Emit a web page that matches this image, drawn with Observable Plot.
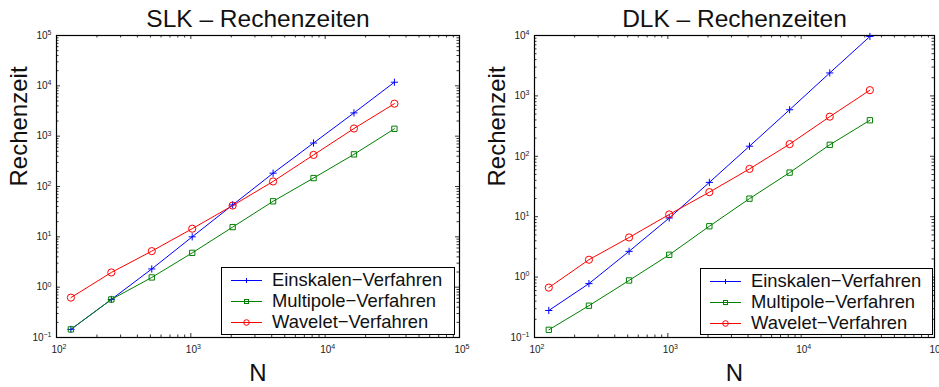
<!DOCTYPE html>
<html><head><meta charset="utf-8">
<script src="https://cdn.jsdelivr.net/npm/d3@7"></script>
<script src="https://cdn.jsdelivr.net/npm/@observablehq/plot@0.6"></script>
<style>
body{margin:0;background:#fff;}
#wrap{position:relative;width:939px;height:387px;overflow:hidden;font-family:"Liberation Sans",Arial,Helvetica,sans-serif;background:#fff;}
.panel{position:absolute;top:0;}
.legend{position:absolute;background:#fff;border:1.5px solid #000;box-sizing:border-box;}
.row{position:absolute;left:0;height:21px;display:flex;align-items:center;font-size:18.4px;color:#111;white-space:nowrap;}
.row svg{margin-left:9px;margin-right:10px;}
</style></head><body><div id="wrap"></div>
<script>
// ---- data ----
const N = [128, 256, 512, 1024, 2048, 4096, 8192, 16384, 32768];
const methods = ["Einskalen\u2212Verfahren", "Multipole\u2212Verfahren", "Wavelet\u2212Verfahren"];
const slkEinskalen = [0.145, 0.57, 2.3, 10, 43, 184, 731, 2900, 11800];
const slkMultipole = [0.145, 0.57, 1.56, 4.8, 15.6, 50.8, 147, 435, 1400];
const slkWavelet   = [0.62, 1.96, 5.2, 14.5, 41.8, 126, 424, 1420, 4420];
const dlkEinskalen = [0.28, 0.78, 2.67, 9.5, 37, 147, 590, 2400, 9640];
const dlkMultipole = [0.134, 0.336, 0.88, 2.34, 6.95, 19.9, 53.7, 155, 395];
const dlkWavelet   = [0.67, 1.94, 4.53, 10.9, 25.5, 61.8, 159, 453, 1245];
const titles = ["SLK \u2013 Rechenzeiten", "DLK \u2013 Rechenzeiten"];
const xLabel = "N";
const yLabel = "Rechenzeit";
const xTickExps = [2, 3, 4, 5];
const slkYTickExps = [-1, 0, 1, 2, 3, 4, 5];
const dlkYTickExps = [-1, 0, 1, 2, 3, 4];

// ---- styles ----
const colors = ["#0000ff", "#008000", "#ff0000"];
const symbols = ["plus", "square", "circle"];
const radii = [2.45, 3.0, 3.6];
const FONT = '"Liberation Sans", Arial, Helvetica, sans-serif';
const NS = "http://www.w3.org/2000/svg";

function minorTicks(e0, e1) {
  const out = [];
  for (let e = e0; e < e1; e++) for (let m = 2; m <= 9; m++) out.push(m * Math.pow(10, e));
  return out;
}
function fmtExp(e) { return e < 0 ? "\u2212" + Math.abs(e) : String(e); }

function panel({title, seriesVals, yExps, left, marginLeft, marginRight, legend}) {
  const W = 469, H = 387, mt = 35, mb = 50;
  const ph = H - mt - mb, pw = W - marginLeft - marginRight;
  const xMajor = xTickExps.map(e => Math.pow(10, e));
  const yMajor = yExps.map(e => Math.pow(10, e));
  const xMinor = minorTicks(xTickExps[0], xTickExps[xTickExps.length - 1]);
  const yMinor = minorTicks(yExps[0], yExps[yExps.length - 1]);
  const tl = 4, tm = 2.5;
  const marks = [
    Plot.frame({stroke: "#000", strokeWidth: 1.2}),
    Plot.tickX(xMajor, {x: d => d, insetTop: ph - tl, stroke: "#000", strokeWidth: 0.8}),
    Plot.tickX(xMajor, {x: d => d, insetBottom: ph - tl, stroke: "#000", strokeWidth: 0.8}),
    Plot.tickX(xMinor, {x: d => d, insetTop: ph - tm, stroke: "#000", strokeWidth: 0.8}),
    Plot.tickX(xMinor, {x: d => d, insetBottom: ph - tm, stroke: "#000", strokeWidth: 0.8}),
    Plot.tickY(yMajor, {y: d => d, insetRight: pw - tl, stroke: "#000", strokeWidth: 0.8}),
    Plot.tickY(yMajor, {y: d => d, insetLeft: pw - tl, stroke: "#000", strokeWidth: 0.8}),
    Plot.tickY(yMinor, {y: d => d, insetRight: pw - tm, stroke: "#000", strokeWidth: 0.8}),
    Plot.tickY(yMinor, {y: d => d, insetLeft: pw - tm, stroke: "#000", strokeWidth: 0.8}),
    Plot.axisX({ticks: xMajor, tickSize: 0, tickPadding: 8, label: null,
      tickFormat: d => fmtExp(Math.round(Math.log10(d)))}),
    Plot.axisY({ticks: yMajor, tickSize: 0, tickPadding: 5, label: null,
      tickFormat: d => fmtExp(Math.round(Math.log10(d)))})
  ];
  seriesVals.forEach((vals, i) => {
    const rows = N.map((n, j) => ({N: n, t: vals[j], method: methods[i]}));
    marks.push(Plot.line(rows, {x: "N", y: "t", stroke: colors[i], strokeWidth: 1}));
    marks.push(Plot.dot(rows, {x: "N", y: "t", stroke: colors[i], fill: "none", symbol: symbols[i], r: radii[i], strokeWidth: 1}));
  });
  marks.push(
    Plot.text([title], {text: d => d, frameAnchor: "top", lineAnchor: "middle", dy: -16.7, fontSize: 24.5, fill: "#111"}),
    Plot.text([yLabel], {text: d => d, frameAnchor: "left", lineAnchor: "middle", rotate: -90, dx: -36.7, fontSize: 24, fill: "#111"}),
    Plot.text([xLabel], {text: d => d, frameAnchor: "bottom", lineAnchor: "middle", dy: 36.3, fontSize: 24, fill: "#111"})
  );
  const svg = Plot.plot({
    width: W, height: H, marginLeft, marginRight, marginTop: mt, marginBottom: mb,
    x: {type: "log", domain: [xMajor[0], xMajor[xMajor.length - 1]]},
    y: {type: "log", domain: [yMajor[0], yMajor[yMajor.length - 1]]},
    style: {fontFamily: FONT, fontSize: "10px", color: "#222", background: "transparent", overflow: "visible"},
    marks
  });
  // superscript tick labels
  const fix = (sel, shift) => {
    svg.querySelectorAll(sel).forEach(t => {
      const e = t.textContent;
      t.textContent = "";
      const a = document.createElementNS(NS, "tspan"); a.textContent = "10";
      const b = document.createElementNS(NS, "tspan"); b.textContent = e;
      b.setAttribute("font-size", "7"); b.setAttribute("dy", "-0.55em");
      t.appendChild(a); t.appendChild(b);
      if (shift) t.setAttribute("transform", (t.getAttribute("transform") || "") + ` translate(${shift},0)`);
    });
  };
  fix('g[aria-label="x-axis tick label"] text', 2.5);
  fix('g[aria-label="y-axis tick label"] text', 0);
  const div = document.createElement("div");
  div.className = "panel"; div.style.left = left + "px";
  div.appendChild(svg);
  document.getElementById("wrap").appendChild(div);

  // legend
  const lg = document.createElement("div");
  lg.className = "legend";
  Object.assign(lg.style, {left: legend.x + "px", top: legend.y + "px", width: legend.w + "px", height: legend.h + "px"});
  methods.forEach((m, i) => {
    const row = document.createElement("div");
    row.className = "row";
    row.style.top = (legend.rowTop + i * 21) + "px";
    let mk = "";
    if (symbols[i] === "plus") mk = `<path d="M13,10.5H18M15.5,8V13" stroke="${colors[i]}" stroke-width="1"/>`;
    else if (symbols[i] === "square") mk = `<rect x="13.5" y="8.5" width="4" height="4" fill="none" stroke="${colors[i]}" stroke-width="1"/>`;
    else mk = `<circle cx="15.5" cy="10.5" r="2.8" fill="none" stroke="${colors[i]}" stroke-width="1"/>`;
    row.innerHTML = `<svg width="31" height="21"><line x1="0" x2="31" y1="10.5" y2="10.5" stroke="${colors[i]}" stroke-width="1"/>${mk}</svg><span>${m}</span>`;
    lg.appendChild(row);
  });
  document.getElementById("wrap").appendChild(lg);
}

panel({title: titles[0], seriesVals: [slkEinskalen, slkMultipole, slkWavelet], yExps: slkYTickExps,
  left: 0, marginLeft: 56, marginRight: 10,
  legend: {x: 221, y: 266.5, w: 233.5, h: 68, rowTop: 2}});
panel({title: titles[1], seriesVals: [dlkEinskalen, dlkMultipole, dlkWavelet], yExps: dlkYTickExps,
  left: 470, marginLeft: 64, marginRight: 5,
  legend: {x: 700, y: 267.5, w: 233, h: 67, rowTop: 2}});
</script></body></html>
